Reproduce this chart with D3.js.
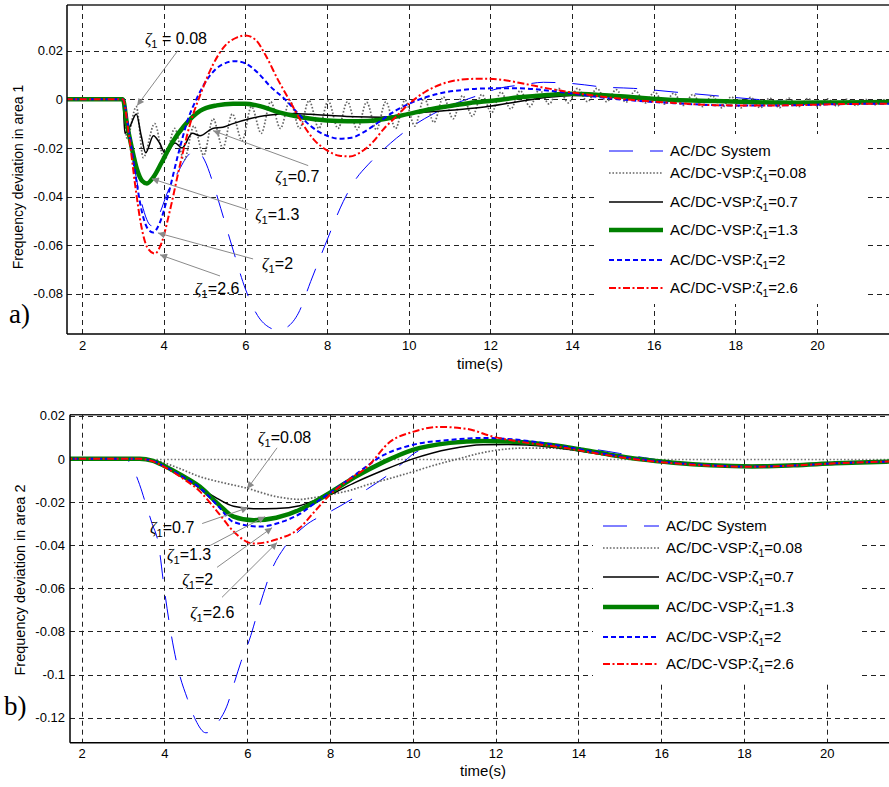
<!DOCTYPE html>
<html>
<head>
<meta charset="utf-8">
<script src="https://cdn.jsdelivr.net/npm/d3@7/dist/d3.min.js"></script>
<style>
body { margin: 0; background: #fff; }
svg { display: block; }
</style>
</head>
<body>
<svg id="chart" width="889" height="787"></svg>
<script>
/** DATA **/
var xTicks = [2, 4, 6, 8, 10, 12, 14, 16, 18, 20];
var yTicks1 = [0.02, 0, -0.02, -0.04, -0.06, -0.08];
var yTicks2 = [0.02, 0, -0.02, -0.04, -0.06, -0.08, -0.1, -0.12];
var seriesNames = ['AC/DC System', '0.08', '0.7', '1.3', '2', '2.6'];

// area 1 : [time(s), deviation]
var a1_acdc = [[1.6,0],[3.0,0],[3.2,-0.02],[3.45,-0.042],[3.7,-0.052],[3.9,-0.047],[4.1,-0.038],[4.35,-0.03],[4.6,-0.023],[4.8,-0.021],[5.0,-0.025],[5.2,-0.034],[5.4,-0.045],[5.7,-0.062],[6.0,-0.078],[6.3,-0.089],[6.6,-0.094],[6.8,-0.095],[7.0,-0.094],[7.3,-0.088],[7.6,-0.075],[8.0,-0.058],[8.4,-0.042],[8.7,-0.033],[9.0,-0.027],[9.3,-0.022],[9.7,-0.016],[10.1,-0.011],[10.6,-0.006],[11.1,-0.002],[11.6,0.001],[12.2,0.0045],[12.8,0.006],[13.3,0.007],[14.0,0.0065],[14.8,0.005],[15.5,0.0045],[16.5,0.003],[17.5,0.0015],[18.5,0.0],[19.5,-0.001],[20.5,-0.001],[21.8,-0.0008]];
var a1_z008 = [[1.6,0],[3.0,0],[3.1,-0.016],[3.33,-0.003],[3.5,-0.024],[3.78,-0.010],[4.02,-0.025],[4.27,-0.012],[4.5,-0.025],[4.74,-0.011],[4.98,-0.023],[5.21,-0.008],[5.45,-0.02],[5.68,-0.006],[5.92,-0.017],[6.15,-0.003],[6.39,-0.014],[6.62,-0.001],[6.86,-0.012],[7.09,-0.0005],[7.33,-0.012],[7.56,-0.0005],[7.8,-0.012],[8.03,-0.0007],[8.27,-0.012],[8.5,-0.001],[8.74,-0.0125],[8.97,-0.0012],[9.21,-0.0125],[9.44,-0.001],[9.68,-0.012],[9.91,-0.0003],[10.15,-0.011],[10.38,0.0005],[10.62,-0.0095],[10.85,0.001],[11.09,-0.008],[11.32,0.0015],[11.56,-0.007],[11.79,0.002],[12.03,-0.0055],[12.26,0.003],[12.5,-0.004],[12.73,0.0035],[12.97,-0.003],[13.2,0.004],[13.44,-0.002],[13.67,0.0045],[13.91,-0.0015],[14.14,0.0045],[14.38,-0.001],[14.61,0.0045],[14.85,-0.001],[15.08,0.004],[15.32,-0.0012],[15.55,0.0035],[15.79,-0.0015],[16.02,0.003],[16.26,-0.002],[16.49,0.0025],[16.73,-0.0025],[16.96,0.002],[17.2,-0.003],[17.43,0.0015],[17.67,-0.0035],[17.9,0.001],[18.14,-0.0035],[18.37,0.0008],[18.61,-0.0035],[18.84,0.0005],[19.08,-0.0035],[19.31,0.0005],[19.55,-0.003],[19.78,0.0003],[20.02,-0.003],[20.25,0.0002],[20.49,-0.0028],[20.72,0],[20.96,-0.0025],[21.19,0],[21.43,-0.0022],[21.66,0]];
var a1_z07 = [[1.6,0],[3.0,0],[3.05,-0.014],[3.18,-0.011],[3.33,-0.006],[3.45,-0.015],[3.56,-0.022],[3.75,-0.015],[3.9,-0.018],[4.05,-0.0225],[4.28,-0.018],[4.45,-0.02],[4.7,-0.014],[4.89,-0.015],[5.2,-0.012],[5.45,-0.0115],[5.7,-0.01],[6.1,-0.008],[6.5,-0.0067],[7.1,-0.0058],[7.6,-0.0062],[8.1,-0.0067],[8.7,-0.0072],[9.3,-0.0074],[10.0,-0.006],[10.8,-0.0048],[11.75,-0.0034],[12.6,-0.0012],[13.4,0.0008],[14.0,0.0016],[14.7,0.0015],[15.5,0.0008],[16.5,0.0],[17.5,-0.0006],[18.5,-0.0012],[19.5,-0.0014],[20.5,-0.0014],[21.8,-0.0013]];
var a1_z13 = [[1.6,0],[3.0,0],[3.1,-0.01],[3.22,-0.02],[3.35,-0.029],[3.47,-0.0335],[3.59,-0.0346],[3.75,-0.032],[3.95,-0.026],[4.2,-0.018],[4.5,-0.011],[4.9,-0.0047],[5.3,-0.0025],[5.7,-0.0018],[6.0,-0.0018],[6.4,-0.003],[6.85,-0.0055],[7.4,-0.0075],[8.0,-0.0087],[8.5,-0.009],[9.0,-0.0089],[9.5,-0.0078],[10.0,-0.006],[10.5,-0.0042],[11.0,-0.0028],[11.5,-0.0015],[12.1,-0.0005],[12.7,0.0008],[13.4,0.0018],[14.0,0.0023],[14.7,0.0018],[15.5,0.0008],[16.5,-0.0003],[17.5,-0.0007],[18.5,-0.0012],[19.5,-0.0014],[20.5,-0.0013],[21.8,-0.0011]];
var a1_z2 = [[1.6,0],[3.0,0],[3.15,-0.013],[3.3,-0.03],[3.45,-0.045],[3.6,-0.053],[3.74,-0.0548],[3.9,-0.051],[4.1,-0.04],[4.35,-0.023],[4.6,-0.008],[4.8,0],[5.1,0.009],[5.4,0.014],[5.75,0.0157],[6.0,0.0148],[6.3,0.011],[6.6,0.0055],[7.0,-0.0005],[7.3,-0.006],[7.6,-0.011],[8.0,-0.015],[8.3,-0.0162],[8.6,-0.0158],[8.9,-0.0135],[9.3,-0.009],[9.7,-0.0045],[10.2,-0.0005],[10.7,0.0022],[11.3,0.0038],[12.0,0.0045],[12.7,0.0045],[13.4,0.0036],[14.0,0.0024],[14.7,0.0008],[15.5,-0.0005],[16.5,-0.0016],[17.5,-0.0024],[18.5,-0.0026],[19.5,-0.0024],[20.5,-0.002],[21.8,-0.0018]];
var a1_z26 = [[1.6,0],[3.0,0],[3.15,-0.015],[3.3,-0.035],[3.45,-0.052],[3.6,-0.061],[3.78,-0.0635],[3.95,-0.059],[4.15,-0.046],[4.4,-0.027],[4.65,-0.01],[4.9,0.002],[5.2,0.014],[5.5,0.022],[5.8,0.0255],[6.0,0.0263],[6.25,0.0245],[6.5,0.018],[6.8,0.008],[7.1,-0.001],[7.4,-0.01],[7.7,-0.017],[8.0,-0.021],[8.3,-0.0232],[8.55,-0.0235],[8.8,-0.022],[9.1,-0.018],[9.4,-0.012],[9.7,-0.007],[10.0,-0.002],[10.4,0.003],[10.8,0.0062],[11.3,0.0081],[11.8,0.0085],[12.3,0.008],[12.8,0.0065],[13.4,0.0045],[14.0,0.0028],[14.7,0.0012],[15.5,-0.0003],[16.5,-0.0015],[17.5,-0.0024],[18.5,-0.0026],[19.5,-0.0024],[20.5,-0.002],[21.8,-0.0018]];

// area 2
var a2_acdc = [[1.6,0],[3.05,0],[3.2,-0.003],[3.4,-0.012],[3.55,-0.021],[3.7,-0.03],[3.85,-0.039],[4.0,-0.061],[4.15,-0.08],[4.35,-0.099],[4.55,-0.111],[4.75,-0.121],[5.0,-0.127],[5.15,-0.126],[5.3,-0.122],[5.5,-0.115],[5.7,-0.103],[5.85,-0.094],[6.05,-0.084],[6.3,-0.068],[6.6,-0.051],[6.9,-0.041],[7.4,-0.031],[8.0,-0.0245],[8.5,-0.019],[8.9,-0.014],[9.4,-0.0075],[9.7,-0.0028],[10.05,0.0028],[10.6,0.0062],[11.3,0.0078],[12.0,0.0078],[12.8,0.0068],[13.7,0.0055],[14.3,0.0046],[15.0,0.0025],[15.6,0.0005],[16.2,-0.0012],[17.0,-0.003],[18.0,-0.0038],[19.0,-0.0035],[20.0,-0.0025],[21.6,-0.0014]];
var a2_z008 = [[1.6,0],[3.4,0],[3.8,-0.0008],[4.3,-0.004],[4.86,-0.0083],[5.4,-0.011],[5.95,-0.0134],[6.7,-0.0175],[7.27,-0.0188],[7.6,-0.018],[8.0,-0.0166],[8.5,-0.0145],[8.9,-0.012],[9.5,-0.0088],[10.0,-0.006],[10.6,-0.0025],[11.1,0],[11.6,0.0025],[12.1,0.0042],[12.7,0.005],[13.3,0.005],[13.8,0.0043],[14.3,0.0032],[15.0,0.0013],[15.6,-0.0005],[16.3,-0.002],[17.2,-0.003],[18.0,-0.0034],[19.0,-0.003],[20.0,-0.0022],[21.6,-0.0013]];
var a2_z07 = [[1.6,0],[3.4,0],[3.7,-0.0008],[4.0,-0.003],[4.55,-0.0097],[5.2,-0.0175],[5.67,-0.022],[6.15,-0.0231],[6.7,-0.023],[7.27,-0.0217],[7.6,-0.0195],[8.0,-0.0166],[8.6,-0.011],[9.2,-0.006],[10.0,0],[10.9,0.0046],[11.7,0.0065],[12.3,0.0066],[13.3,0.0055],[14.3,0.0028],[15.0,0.0008],[15.7,-0.0008],[16.5,-0.002],[17.3,-0.0028],[18.0,-0.0031],[19.0,-0.0028],[20.0,-0.002],[21.6,-0.0012]];
var a2_z13 = [[1.6,0],[3.4,0],[3.7,-0.0008],[4.0,-0.0033],[4.4,-0.0075],[4.86,-0.013],[5.3,-0.021],[5.67,-0.0268],[6.15,-0.0285],[6.7,-0.0273],[7.27,-0.0236],[7.6,-0.0202],[8.0,-0.0157],[8.6,-0.0085],[9.3,-0.0014],[10.0,0.0042],[10.9,0.0074],[11.7,0.0083],[12.3,0.008],[13.3,0.0065],[14.1,0.0042],[14.8,0.0018],[15.5,-0.0002],[16.3,-0.0018],[17.2,-0.003],[18.2,-0.0035],[19.2,-0.003],[20.2,-0.0021],[21.6,-0.0012]];
var a2_z2 = [[1.6,0],[3.4,0],[3.7,-0.0008],[4.0,-0.0035],[4.4,-0.0078],[4.86,-0.0135],[5.3,-0.022],[5.67,-0.0293],[6.3,-0.0314],[6.87,-0.029],[7.27,-0.0255],[7.6,-0.021],[8.0,-0.0157],[8.6,-0.0075],[9.3,0.0018],[10.0,0.0065],[10.9,0.0088],[11.7,0.0097],[12.3,0.0092],[13.3,0.0069],[14.1,0.0042],[14.8,0.0018],[15.5,-0.0002],[16.3,-0.0018],[17.2,-0.003],[18.2,-0.0036],[19.2,-0.0031],[20.2,-0.0021],[21.6,-0.0012]];
var a2_z26 = [[1.6,0],[3.4,0],[3.7,-0.001],[4.0,-0.0038],[4.4,-0.0085],[4.86,-0.0152],[5.3,-0.025],[5.67,-0.0337],[6.15,-0.0393],[6.7,-0.0374],[7.27,-0.032],[7.6,-0.025],[8.0,-0.0166],[8.45,-0.0098],[8.9,-0.0037],[9.45,0.0079],[10.0,0.0125],[10.65,0.0148],[11.3,0.0139],[11.95,0.0102],[12.6,0.0079],[13.7,0.005],[14.35,0.0028],[15.0,0.0008],[15.6,-0.0008],[16.4,-0.0022],[17.2,-0.0032],[18.2,-0.0037],[19.2,-0.0031],[20.2,-0.0021],[21.6,-0.0012]];

// annotations: [zeta value, text anchor (t,v), arrow tail (t,v), arrow head (t,v)]
var notes1 = [
   ['0.08', [3.54, 0.0226], [4.35, 0.0201], [3.35, -0.0026]],
   ['0.7', [6.73, -0.034], [7.54, -0.0273], [5.21, -0.0129]],
   ['1.3', [6.24, -0.0496], [6.07, -0.0455], [3.71, -0.0327]],
   ['2', [6.41, -0.0698], [6.19, -0.0657], [3.86, -0.055]],
   ['2.6', [4.77, -0.0801], [5.38, -0.0727], [3.91, -0.064]]
];
var notes2 = [
   ['0.08', [6.26, 0.0074], [6.72, 0.0051], [6.0, -0.0139]],
   ['0.7', [3.65, -0.0342], [4.91, -0.030], [6.02, -0.0226]],
   ['1.3', [4.06, -0.0471], [5.1, -0.0402], [6.43, -0.0268]],
   ['2', [4.43, -0.0587], [5.27, -0.0503], [6.6, -0.0319]],
   ['2.6', [4.62, -0.0739], [5.39, -0.0642], [6.72, -0.0388]]
];

/** STYLE **/
var styles = [
   {stroke: '#0000ff', width: 1, dash: '24,17'},
   {stroke: '#666666', width: 1.7, dash: '1.6,1.8'},
   {stroke: '#000000', width: 1.5, dash: null},
   {stroke: '#008000', width: 4.5, dash: null},
   {stroke: '#0000ff', width: 2, dash: '5,3'},
   {stroke: '#ff0000', width: 2, dash: '7,2.5,2,2.5'}
];
var drawOrder = [0, 1, 2, 3, 4, 5];
var sans = '"Liberation Sans", Arial, Helvetica, sans-serif';
var serif = '"Liberation Serif", "Times New Roman", serif';

var svg = d3.select('#chart');
svg.append('rect').attr('width', 889).attr('height', 787).attr('fill', '#fff');

var defs = svg.append('defs');
defs.append('marker')
   .attr('id', 'arr')
   .attr('viewBox', '0 0 10 10')
   .attr('refX', 10).attr('refY', 5)
   .attr('markerWidth', 10).attr('markerHeight', 7)
   .attr('markerUnits', 'userSpaceOnUse')
   .attr('orient', 'auto')
   .append('path').attr('d', 'M0,0L10,5L0,10z').attr('fill', '#8a8a8a');

function zeta(text, value, spaced, italic){
   text.append('tspan').attr('font-family', italic ? serif : sans)
      .attr('font-style', italic ? 'italic' : 'normal').text('ζ');
   text.append('tspan').attr('font-size', '0.7em').attr('dy', 4).text('1');
   text.append('tspan').attr('dy', -4).text((spaced ? ' = ' : '=') + value);
}

function crisp(v){ return Math.round(v) + 0.5; }

function panel(o){
   var g = svg.append('g');
   var L = o.box[0], T = o.box[1], R = o.box[2], B = o.box[3];
   var x = d3.scaleLinear().domain([2, 20]).range(o.xr);
   var y = d3.scaleLinear().domain([0.02, o.yRef]).range(o.yr);

   // grid
   g.selectAll('.vg').data(xTicks).enter().append('line')
      .attr('x1', function(d){ return crisp(x(d)); }).attr('x2', function(d){ return crisp(x(d)); })
      .attr('y1', T).attr('y2', B)
      .attr('stroke', '#222').attr('stroke-width', 1).attr('stroke-dasharray', '5,4');
   g.selectAll('.hg').data(o.yTicks).enter().append('line')
      .attr('x1', L).attr('x2', R)
      .attr('y1', function(d){ return crisp(y(d)); }).attr('y2', function(d){ return crisp(y(d)); })
      .attr('stroke', function(d){ return (o.zeroDotted && d === 0) ? '#777' : '#222'; })
      .attr('stroke-width', function(d){ return (o.zeroDotted && d === 0) ? 1.5 : 1; })
      .attr('stroke-dasharray', function(d){ return (o.zeroDotted && d === 0) ? '1.6,2' : '5,4'; });

   // curves
   var clipId = 'clip' + o.id;
   defs.append('clipPath').attr('id', clipId)
      .append('rect').attr('x', L).attr('y', T).attr('width', R - L).attr('height', B - T);
   var line = d3.line()
      .x(function(d){ return x(d[0]); })
      .y(function(d){ return y(d[1]); })
      .curve(d3.curveMonotoneX);
   var cg = g.append('g').attr('clip-path', 'url(#' + clipId + ')');
   drawOrder.forEach(function(i){
      var s = styles[i];
      cg.append('path').datum(o.series[i])
         .attr('d', line)
         .attr('fill', 'none')
         .attr('stroke', s.stroke)
         .attr('stroke-width', s.width)
         .attr('stroke-dasharray', s.dash)
         .attr('stroke-linejoin', 'round');
   });

   // frame
   g.append('line').attr('x1', L).attr('x2', R).attr('y1', T).attr('y2', T)
      .attr('stroke', '#222').attr('stroke-width', 1.5);
   g.append('line').attr('x1', L).attr('x2', L).attr('y1', T).attr('y2', B)
      .attr('stroke', '#000').attr('stroke-width', 1.5);
   g.append('line').attr('x1', L).attr('x2', R).attr('y1', B).attr('y2', B)
      .attr('stroke', '#000').attr('stroke-width', 1.5);

   // axes labels
   var xa = g.append('g').attr('transform', 'translate(0,' + B + ')')
      .call(d3.axisBottom(x).tickValues(xTicks).tickSize(0).tickPadding(o.xPad));
   var ya = g.append('g').attr('transform', 'translate(' + L + ',0)')
      .call(d3.axisLeft(y).tickValues(o.yTicks).tickSize(0).tickPadding(o.yPad)
         .tickFormat(function(d){ return String(+d.toFixed(2)); }));
   [xa, ya].forEach(function(a){
      a.select('.domain').remove();
      a.selectAll('text').attr('font-family', sans).attr('font-size', 13).attr('fill', '#000');
   });

   g.append('text').attr('x', o.timeX).attr('y', o.timeY)
      .attr('text-anchor', 'middle').attr('font-family', sans).attr('font-size', 15)
      .text('time(s)');
   g.append('text')
      .attr('transform', 'translate(' + o.ylabX + ',' + o.ylabY + ') rotate(-90)')
      .attr('text-anchor', 'middle').attr('font-family', sans).attr('font-size', o.ylabSize)
      .text(o.ylab);
   g.append('text').attr('x', o.tagX).attr('y', o.tagY)
      .attr('font-family', serif).attr('font-size', 27).text(o.tag);

   // legend
   var lg = g.append('g');
   lg.append('rect').attr('x', o.leg.x).attr('y', o.leg.y)
      .attr('width', o.leg.w).attr('height', o.leg.h).attr('fill', '#fff');
   seriesNames.forEach(function(name, i){
      var ry = o.leg.rows[i], s = styles[i];
      lg.append('line').attr('x1', o.leg.x1).attr('x2', o.leg.x2)
         .attr('y1', ry).attr('y2', ry)
         .attr('stroke', s.stroke).attr('stroke-width', s.width)
         .attr('stroke-dasharray', s.dash);
      var t = lg.append('text').attr('x', o.leg.tx).attr('y', ry + 5)
         .attr('font-family', sans).attr('font-size', 15);
      if (i === 0) t.text(name);
      else { t.append('tspan').text('AC/DC-VSP:'); zeta(t, name, false, false); }
   });

   // annotations
   o.notes.forEach(function(n){
      g.append('line')
         .attr('x1', x(n[2][0])).attr('y1', y(n[2][1]))
         .attr('x2', x(n[3][0])).attr('y2', y(n[3][1]))
         .attr('stroke', '#8a8a8a').attr('stroke-width', 1)
         .attr('marker-end', 'url(#arr)');
      var t = g.append('text').attr('x', x(n[1][0])).attr('y', y(n[1][1]))
         .attr('font-family', sans).attr('font-size', 16);
      zeta(t, n[0], n[0] === '0.08' && o.id === 1, true);
   });
}

panel({
   id: 1, box: [67, 5, 889, 334], xr: [82, 817], yRef: -0.08, yr: [50.7, 293.7],
   yTicks: yTicks1, zeroDotted: false,
   series: [a1_acdc, a1_z008, a1_z07, a1_z13, a1_z2, a1_z26],
   xPad: 6.8, yPad: 4, timeX: 480, timeY: 369,
   ylab: 'Frequency deviation in area 1', ylabX: 23, ylabY: 177, ylabSize: 14,
   tag: 'a)', tagX: 9, tagY: 323,
   leg: {x: 597, y: 134, w: 270, h: 170, x1: 609, x2: 663, tx: 670,
      rows: [151, 173, 202, 230, 260, 288]},
   notes: notes1
});

panel({
   id: 2, box: [70, 414.7, 889, 742.7], xr: [81.7, 826.7], yRef: -0.12, yr: [415.7, 717.7],
   yTicks: yTicks2, zeroDotted: true,
   series: [a2_acdc, a2_z008, a2_z07, a2_z13, a2_z2, a2_z26],
   xPad: 6.1, yPad: 5, timeX: 483, timeY: 776,
   ylab: 'Frequency deviation in area 2', ylabX: 25, ylabY: 580, ylabSize: 14.5,
   tag: 'b)', tagX: 4, tagY: 715,
   leg: {x: 593, y: 511, w: 265, h: 172, x1: 603, x2: 659, tx: 666,
      rows: [526, 548, 577, 607, 637, 664]},
   notes: notes2
});
</script>
</body>
</html>
